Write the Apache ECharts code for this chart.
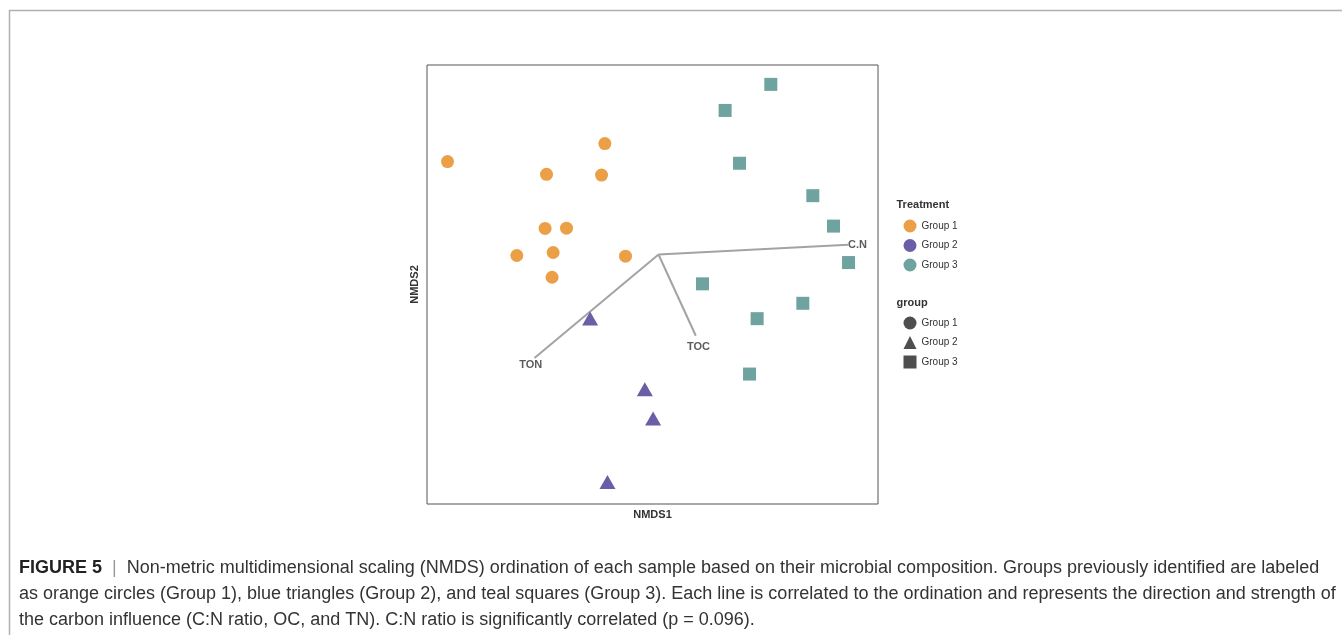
<!DOCTYPE html>
<html><head><meta charset="utf-8">
<script src="https://cdn.jsdelivr.net/npm/echarts@6/dist/echarts.min.js"></script>
<style>html,body{margin:0;padding:0;background:#fff}#c{width:1342px;height:635px}</style>
</head><body><div id="c"></div>
<script>
// ---- data (NMDS scores) ----
const groupNames = ['Group 1', 'Group 2', 'Group 3'];
const group1 = [[-0.2807,0.1270],[-0.0714,0.1516],[-0.1490,0.1096],[-0.0758,0.1086],[-0.1509,0.0356],
                [-0.1224,0.0360],[-0.1885,-0.0014],[-0.1402,0.0027],[-0.0439,-0.0023],[-0.1416,-0.0311]];
const group2 = [[-0.0910,-0.0873],[-0.0182,-0.1843],[-0.0072,-0.2243],[-0.0679,-0.3110]];
const group3 = [[0.1494,0.2325],[0.0886,0.1969],[0.1078,0.1247],[0.2053,0.0804],[0.2328,0.0388],
                [0.2528,-0.0110],[0.0585,-0.0401],[0.1920,-0.0667],[0.1312,-0.0877],[0.1211,-0.1634]];
const vectorNames = ['C.N', 'TOC', 'TON'];
const vectorEnds = [[0.2522,0.0133],[0.0496,-0.1110],[-0.1650,-0.1415]];
const vectorLabelPos = [[0.2647,0.0133],[0.0532,-0.1270],[-0.1699,-0.1507]];
const xRange = [-0.308, 0.292];
const yRange = [-0.341, 0.259];
const captionLines = [
  'Non-metric multidimensional scaling (NMDS) ordination of each sample based on their microbial composition. Groups previously identified are labeled',
  'as orange circles (Group 1), blue triangles (Group 2), and teal squares (Group 3). Each line is correlated to the ordination and represents the direction and strength of',
  'the carbon influence (C:N ratio, OC, and TN). C:N ratio is significantly correlated (p = 0.096).'
];

const colors = ['#EBA048', '#6A5EA6', '#6FA3A0'];
const shapes = ['circle', 'triangle', 'rect'];
const FONT = '"Liberation Sans", Arial, Helvetica, sans-serif';

const chart = echarts.init(document.getElementById('c'), null, {renderer: 'canvas'});

const series = [];
vectorEnds.forEach((e, i) => {
  series.push({
    type: 'line', name: 'vec_' + vectorNames[i], data: [[0, 0], e],
    symbol: 'none', silent: true, z: 1,
    lineStyle: {color: '#a3a3a3', width: 2}
  });
});
series.push({
  type: 'scatter', name: 'vecLabels', z: 3, silent: true,
  data: vectorLabelPos.map((p, i) => ({value: p, name: vectorNames[i]})),
  symbolSize: 0,
  label: {show: true, position: 'inside', formatter: p => p.name,
          color: '#333', fontWeight: 'bold', fontSize: 11, fontFamily: FONT}
});
[group1, group2, group3].forEach((d, i) => {
  series.push({
    type: 'scatter', name: groupNames[i], data: d, z: 2,
    symbol: shapes[i], symbolSize: i === 1 ? [16, 14] : 13,
    itemStyle: {color: colors[i], opacity: 1}
  });
});
// dummy series for "group" shape legend
groupNames.forEach((n, i) => {
  series.push({
    type: 'scatter', name: n + ' ', data: [], symbol: shapes[i],
    itemStyle: {color: '#222'}
  });
});

const legendText = {fontSize: 10, color: '#333', fontFamily: FONT};

chart.setOption({
  animation: false,
  backgroundColor: '#fff',
  grid: {left: 427, top: 65, width: 451, height: 439, show: true,
         borderColor: '#555', borderWidth: 1, backgroundColor: 'transparent'},
  xAxis: {type: 'value', min: xRange[0], max: xRange[1],
          axisLine: {show: false}, axisTick: {show: false}, axisLabel: {show: false}, splitLine: {show: false},
          name: 'NMDS1', nameLocation: 'middle', nameGap: 5,
          nameTextStyle: {fontWeight: 'bold', fontSize: 11, color: '#333', fontFamily: FONT}},
  yAxis: {type: 'value', min: yRange[0], max: yRange[1],
          axisLine: {show: false}, axisTick: {show: false}, axisLabel: {show: false}, splitLine: {show: false},
          name: 'NMDS2', nameLocation: 'middle', nameGap: 7,
          nameTextStyle: {fontWeight: 'bold', fontSize: 11, color: '#333', fontFamily: FONT}},
  legend: [
    {orient: 'vertical', left: 898.5, top: 214.5, itemWidth: 13, itemHeight: 13, itemGap: 6.5,
     selectedMode: false, textStyle: legendText,
     data: groupNames.map(n => ({name: n, icon: 'circle'}))},
    {orient: 'vertical', left: 898.5, top: 311.5, itemWidth: 13, itemHeight: 13, itemGap: 6.5,
     selectedMode: false, textStyle: legendText,
     formatter: n => n.trim(),
     data: groupNames.map((n, i) => ({name: n + ' ', icon: i === 1 ? 'triangle' : (i === 2 ? 'rect' : 'circle')}))}
  ],
  graphic: [
    {type: 'rect', shape: {x: 9.5, y: 10.5, width: 1400, height: 700}, silent: true, z: -10,
     style: {fill: 'none', stroke: '#b0b0b0', lineWidth: 1.5}},
    {type: 'text', x: 896.5, y: 204.5, silent: true,
     style: {text: 'Treatment', font: 'bold 11px ' + FONT, fill: '#333', verticalAlign: 'middle'}},
    {type: 'text', x: 896.5, y: 302.5, silent: true,
     style: {text: 'group', font: 'bold 11px ' + FONT, fill: '#333', verticalAlign: 'middle'}},
    {type: 'text', x: 19, y: 568, silent: true,
     style: {text: '{b|FIGURE 5}  {s||}  ' + captionLines[0], font: '18px ' + FONT, fill: '#333',
             verticalAlign: 'middle',
             rich: {b: {font: 'bold 18px ' + FONT, fill: '#222'}, s: {font: '18px ' + FONT, fill: '#999'}}}},
    {type: 'text', x: 19, y: 594, silent: true,
     style: {text: captionLines[1], font: '18px ' + FONT, fill: '#333', verticalAlign: 'middle'}},
    {type: 'text', x: 19, y: 620, silent: true,
     style: {text: captionLines[2], font: '18px ' + FONT, fill: '#333', verticalAlign: 'middle'}}
  ],
  series: series
});
</script></body></html>
